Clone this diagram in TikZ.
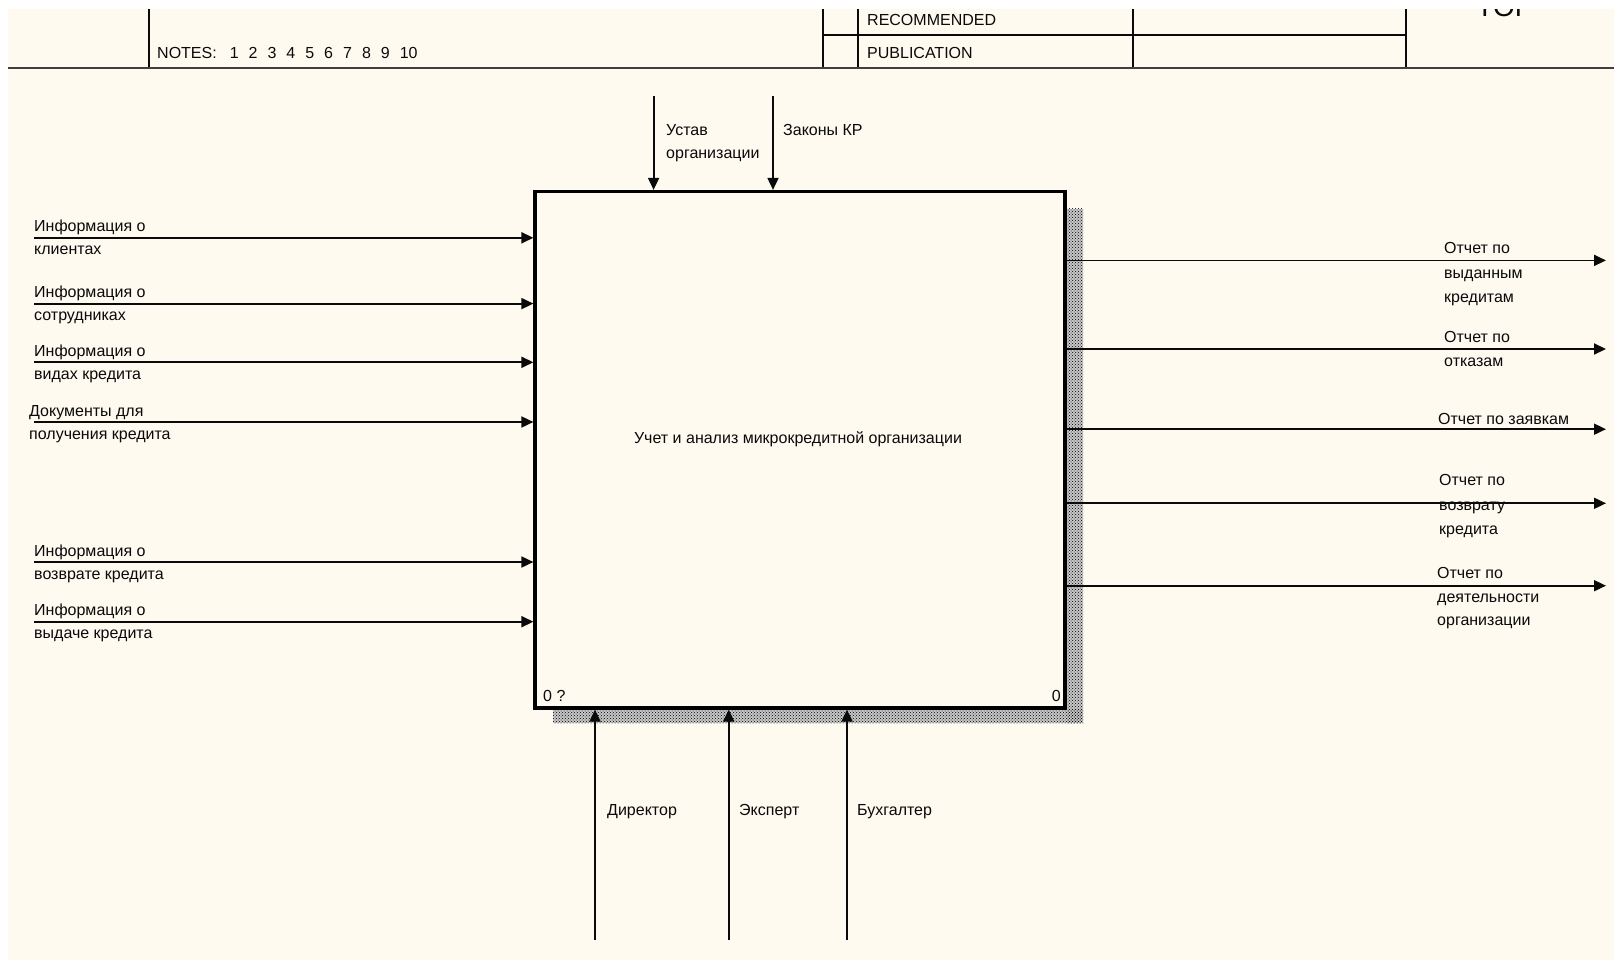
\documentclass[tikz,border=0pt]{standalone}
\usepackage{fontspec}
\setmainfont{Liberation Sans}
\usetikzlibrary{arrows.meta,patterns}
\definecolor{cream}{RGB}{255,250,240}
\definecolor{ink}{RGB}{10,10,10}
\begin{document}
\begin{tikzpicture}[x=1pt,y=-1pt,
  lbl/.style={font=\fontsize{16}{18}\selectfont, inner sep=0pt, anchor=base west, text=ink},
  flow/.style={line width=1.8pt, draw=ink, -{Triangle[length=12pt,width=11pt]}},
  hdr/.style={line width=1.6pt, draw=ink},
  shadowbg/.style={fill=black!22},
  shadow/.style={pattern=crosshatch dots, pattern color=black}]
\useasboundingbox (0,0) rectangle (1614,960);
\fill[white] (0,0) rectangle (1614,960);
\fill[cream] (8,9) rectangle (1614,960);
% header
\node[font=\fontsize{28}{30}\selectfont, anchor=base, text=ink] (toplbl) at (1505,17) {TOP};
\fill[white] (0,0) rectangle (1614,9);
\draw[hdr] (149,9) -- (149,68);
\draw[hdr] (823,9) -- (823,68);
\draw[hdr] (858,9) -- (858,68);
\draw[hdr] (1133,9) -- (1133,68);
\draw[hdr] (1406,9) -- (1406,68);
\draw[hdr] (823,35) -- (1406,35);
\draw[line width=2.2pt, draw=black!75] (8,68) -- (1614,68);
\node[lbl] (notes) at (157,59) {NOTES:\hspace{13pt}1\hspace{10pt}2\hspace{10pt}3\hspace{10pt}4\hspace{10pt}5\hspace{10pt}6\hspace{10pt}7\hspace{10pt}8\hspace{10pt}9\hspace{10pt}10};
\node[lbl] (rec) at (867,26) {RECOMMENDED};
\node[lbl] (pub) at (867,59) {PUBLICATION};
% shadow
\fill[shadowbg] (1067,209) rectangle (1083,723);
\fill[shadowbg] (553,709.5) rectangle (1083,723);
\fill[shadow] (1067,209) rectangle (1083,723);
\fill[shadow] (553,709.5) rectangle (1083,723);
% main box
\node[draw=black, line width=3.2pt, fill=cream, minimum width=530pt, minimum height=516.5pt, inner sep=0pt] (box) at (800,449.75) {};
\node[font=\fontsize{16}{18}\selectfont, text=ink] (title) at (798,439.5) {Учет и анализ микрокредитной организации};
\node[lbl] (num1) at (543,701) {0 ?};
\node[lbl, anchor=base east] (num2) at (1061,701) {0};
% inputs
\foreach \n/\y in {1/237.8, 2/303.6, 3/362.3, 4/422, 5/562, 6/621.7}{
  \coordinate (i\n) at (34,\y);
  \draw[flow] (i\n) -- (i\n -| box.west);
}
\node[lbl] (i1a) at (34,231.8) {Информация о};
\node[lbl] (i1b) at (34,254.8) {клиентах};
\node[lbl] (i2a) at (34,297.6) {Информация о};
\node[lbl] (i2b) at (34,320.6) {сотрудниках};
\node[lbl] (i3a) at (34,356.3) {Информация о};
\node[lbl] (i3b) at (34,379.3) {видах кредита};
\node[lbl] (i4a) at (29,416) {Документы для};
\node[lbl] (i4b) at (29,439) {получения кредита};
\node[lbl] (i5a) at (34,556) {Информация о};
\node[lbl] (i5b) at (34,579) {возврате кредита};
\node[lbl] (i6a) at (34,615.7) {Информация о};
\node[lbl] (i6b) at (34,638.7) {выдаче кредита};
% controls
\coordinate (c1) at (653.6,95.7);
\coordinate (c2) at (773,95.7);
\draw[flow] (c1) -- (c1 |- box.north);
\draw[flow] (c2) -- (c2 |- box.north);
\node[lbl] (c1a) at (666,135.5) {Устав};
\node[lbl] (c1b) at (666,158.5) {организации};
\node[lbl] (c2a) at (783,135.5) {Законы КР};
% mechanisms
\coordinate (m1) at (595,940);
\coordinate (m2) at (728.7,940);
\coordinate (m3) at (847,940);
\draw[flow] (m1) -- (m1 |- box.south);
\draw[flow] (m2) -- (m2 |- box.south);
\draw[flow] (m3) -- (m3 |- box.south);
\node[lbl] (m1a) at (607,815) {Директор};
\node[lbl] (m2a) at (739,815) {Эксперт};
\node[lbl] (m3a) at (857,815) {Бухгалтер};
% outputs
\foreach \n/\y in {1/260.4, 2/349, 3/429.2, 4/503.3, 5/585.7}{
  \coordinate (o\n) at (1606,\y);
  \draw[flow] (o\n -| box.east) -- (o\n);
}
\node[lbl] (o1a) at (1444,254) {Отчет по};
\node[lbl] (o1b) at (1444,278) {выданным};
\node[lbl] (o1c) at (1444,302) {кредитам};
\node[lbl] (o2a) at (1444,342.5) {Отчет по};
\node[lbl] (o2b) at (1444,366.5) {отказам};
\node[lbl] (o3a) at (1438,424.2) {Отчет по заявкам};
\node[lbl] (o4a) at (1439,485.7) {Отчет по};
\node[lbl] (o4b) at (1439,510.3) {возврату};
\node[lbl] (o4c) at (1439,534.5) {кредита};
\node[lbl] (o5a) at (1437,578.3) {Отчет по};
\node[lbl] (o5b) at (1437,602) {деятельности};
\node[lbl] (o5c) at (1437,625.7) {организации};
\end{tikzpicture}
\end{document}
